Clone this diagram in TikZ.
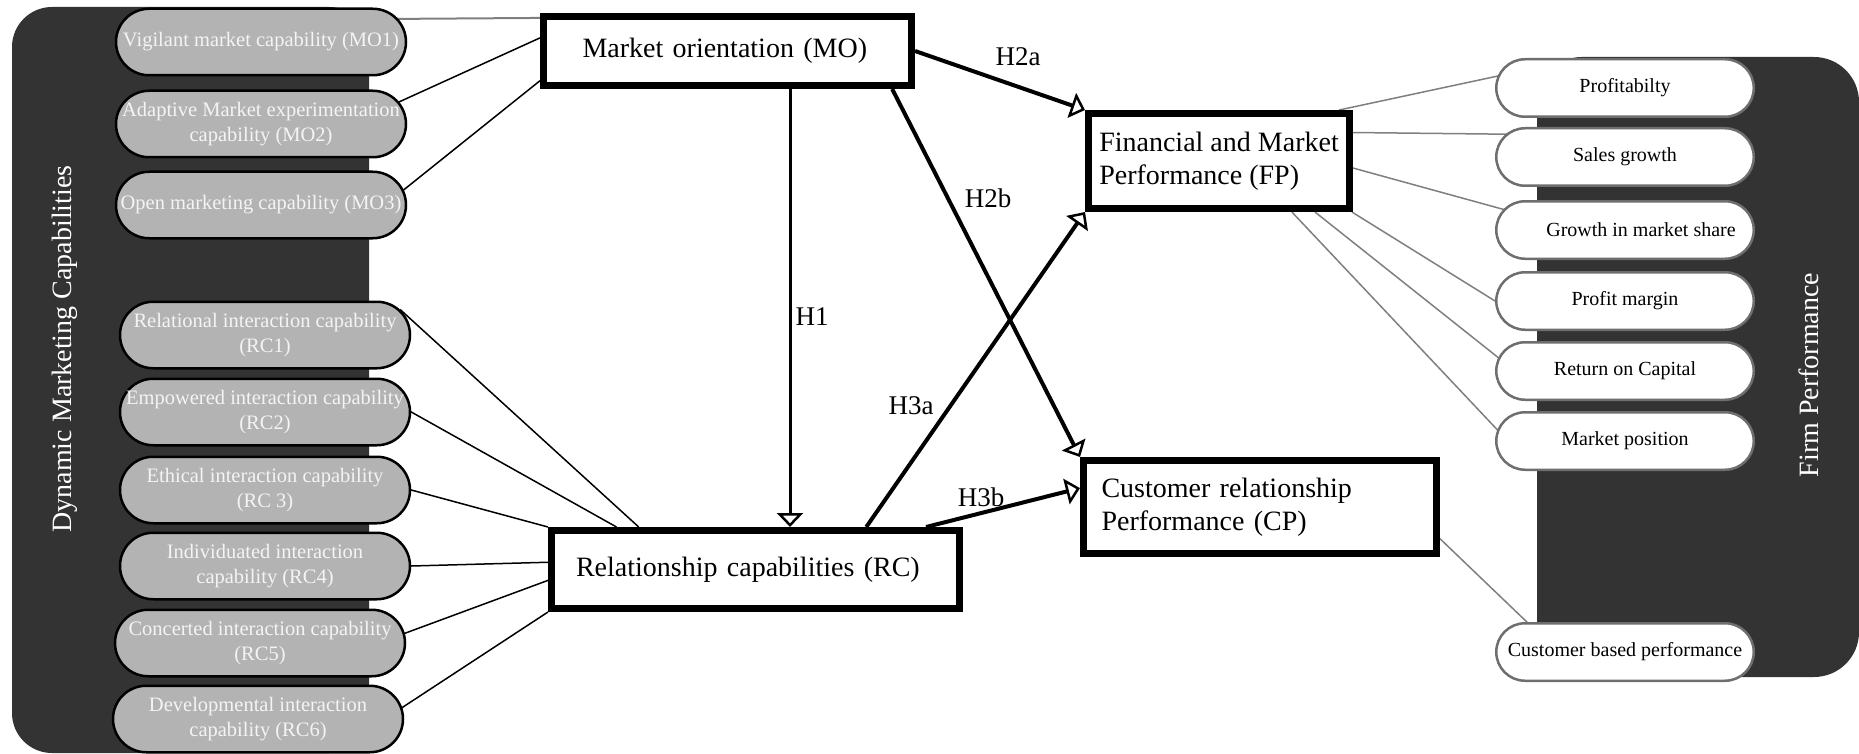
\documentclass[tikz,border=0pt]{standalone}
\usepackage{fontspec}
\setmainfont{Liberation Serif}
\usetikzlibrary{arrows.meta,calc}
\pgfdeclarelayer{bg}
\pgfsetlayers{bg,main}
\definecolor{panel}{HTML}{333333}
\definecolor{pillgray}{HTML}{B3B3B3}
\definecolor{pilltext}{HTML}{F4F4F4}
\definecolor{rimgray}{HTML}{6E6E6E}
\definecolor{linkgray}{HTML}{7F7F7F}
\begin{document}
\begin{tikzpicture}[x=1pt,y=-1pt,
  darkpill/.style={rectangle, rounded corners=33.25pt, draw=black, line width=2.5pt, fill=pillgray, text=pilltext,
    minimum width=290pt, minimum height=66.5pt, inner sep=0pt, align=center,
    font=\fontsize{20.5pt}{25pt}\selectfont},
  lightpill/.style={rectangle, rounded corners=28.75pt, draw=rimgray, line width=2.5pt, fill=white, text=black,
    minimum width=257.5pt, minimum height=57.5pt, inner sep=0pt,
    font=\fontsize{20pt}{24pt}\selectfont},
  bigbox/.style={rectangle, draw=black, line width=7pt, fill=white, inner ysep=0pt, align=left,
    font=\fontsize{28pt}{33pt}\selectfont},
  hlabel/.style={font=\fontsize{27pt}{32pt}\selectfont, inner sep=0pt},
  hyp/.style={line width=4pt, -{Triangle[open,length=14pt,width=26pt,line width=2.5pt]}},
  thinlink/.style={line width=1.5pt, black, shorten <=-15pt},
  greylink/.style={line width=1.5pt, linkgray},
  paneltitle/.style={text=white, rotate=90, font=\fontsize{28pt}{33pt}\selectfont, inner sep=0pt},
]
\useasboundingbox (0,0) rectangle (1859,754);

% left pills
\node[darkpill] (MO1) at (261,42) {Vigilant market capability (MO1)};
\node[darkpill] (MO2) at (261,124) {Adaptive Market experimentation\\capability (MO2)};
\node[darkpill] (MO3) at (261,205) {Open marketing capability (MO3)};
\node[darkpill] (RC1) at (265,335) {Relational interaction capability\\(RC1)};
\node[darkpill] (RC2) at (265,412) {Empowered interaction capability\\(RC2)};
\node[darkpill] (RC3) at (265,490) {Ethical interaction capability\\(RC 3)};
\node[darkpill] (RC4) at (265,566) {Individuated interaction\\capability (RC4)};
\node[darkpill] (RC5) at (260,643) {Concerted interaction capability\\(RC5)};
\node[darkpill] (RC6) at (258,719) {Developmental interaction\\capability (RC6)};

% right pills
\node[lightpill] (P1) at (1625,88) {Profitabilty\hspace{26pt}};
\node[lightpill] (P2) at (1625,157) {Sales growth};
\node[lightpill] (P3) at (1625,230) {\hspace{32pt}Growth in market share};
\node[lightpill] (P4) at (1625,301) {Profit margin};
\node[lightpill] (P5) at (1625,371) {Return on Capital};
\node[lightpill] (P6) at (1625,441) {Market position\hspace{32pt}};
\node[lightpill] (P7) at (1625,652) {Customer based performance};

% panel titles
\node[paneltitle] (DMC) at (65,349) {Dynamic Marketing Capabilities};
\node[paneltitle] (FPT) at (1809,375) {Firm Performance};

% main constructs
\node[bigbox, minimum width=368pt, minimum height=69pt, inner xsep=39pt, text width=290pt] (MO) at (727.5,51) {Market orientation (MO)};
\node[bigbox, minimum width=261pt, minimum height=95pt, inner xsep=0pt] (FP) at (1219,161) {Financial and Market\\Performance (FP)};
\node[bigbox, minimum width=408pt, minimum height=78pt, inner xsep=24.5pt, text width=359pt] (RC) at (755.5,569.5) {Relationship capabilities (RC)};
\node[bigbox, minimum width=353pt, minimum height=93pt, inner xsep=18pt, text width=317pt] (CP) at (1260,507) {Customer relationship\\Performance (CP)};

\begin{pgfonlayer}{bg}
% background panels
\fill[panel, rounded corners=40pt] (12,7) rectangle (369,753);
\fill[panel, rounded corners=45pt] (1537,57) rectangle (1859,677);

% indicator links (left)
\draw[thinlink, linkgray, line width=2pt] (MO1.9) -- (MO.170);
\draw[thinlink] (MO2.10) -- (MO.176);
\draw[thinlink] (MO3.7) -- (MO.189);
\draw[thinlink] (RC1.6) -- (RC.160);
\draw[thinlink] (RC2.east) -- (RC.163);
\draw[thinlink] (RC3.east) -- (RC.north west);
\draw[thinlink] (RC4.east) -- (RC.178);
\draw[thinlink] (RC5.4) -- (RC.183);
\draw[thinlink] (RC6.5) -- (RC.south west);

% indicator links (right)
\draw[greylink, shorten >=-15pt] (FP.23) -- (P1.175);
\draw[greylink, shorten >=-15pt] (FP.12) -- (P2.170);
\draw[greylink, shorten >=-15pt] (FP.-3) -- (P3.170);
\draw[greylink, shorten >=-15pt] (FP.-21) -- (P4.west);
\draw[greylink, shorten >=-15pt] (FP.-28) -- (P5.173);
\draw[greylink, shorten >=-15pt] (FP.-35) -- (P6.174);
\draw[greylink, shorten >=-15pt] (CP.-10) -- (P7.163);
\end{pgfonlayer}

% hypotheses
\coordinate (h1x) at (790,300);
\draw[hyp, line width=3pt] (MO.south -| h1x) -- (RC.north -| h1x);
\draw[hyp] (MO.east) -- (FP.north west);
\draw[hyp] (MO.-13) -- (CP.north west);
\draw[hyp] (RC.21) -- (FP.south west);
\draw[hyp] (RC.14) -- (CP.174);

\node[hlabel] (H1) at (812,317) {H1};
\node[hlabel] (H2a) at (1018,57) {H2a};
\node[hlabel] (H2b) at (988,198) {H2b};
\node[hlabel] (H3a) at (911,406) {H3a};
\node[hlabel] (H3b) at (981,497) {H3b};
\end{tikzpicture}
\end{document}
